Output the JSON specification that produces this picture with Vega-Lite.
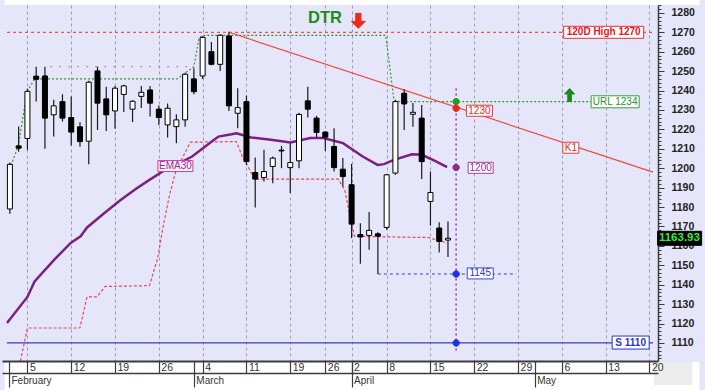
{
  "$schema": "https://vega.github.io/schema/vega-lite/v6.json",
  "width": 656,
  "height": 356,
  "autosize": {"type": "none"},
  "padding": {"left": 2, "top": 5, "right": 47, "bottom": 29},
  "background": "#e6e6fa",
  "config": {"view": {"stroke": null}, "font": "Liberation Sans"},
  "datasets": {
    "candles": [
      {"i": -2, "o": 1179, "h": 1203, "l": 1176.5, "c": 1202},
      {"i": -1, "o": 1211.5, "h": 1221.5, "l": 1208.5, "c": 1210.3},
      {"i": 0, "o": 1215.3, "h": 1241, "l": 1209.5, "c": 1239.6},
      {"i": 1, "o": 1247.4, "h": 1252.3, "l": 1234.3, "c": 1245.8},
      {"i": 2, "o": 1247.5, "h": 1252.3, "l": 1210, "c": 1225.8},
      {"i": 3, "o": 1227.5, "h": 1235.2, "l": 1216.3, "c": 1232.1},
      {"i": 4, "o": 1234.3, "h": 1238.1, "l": 1224, "c": 1225.8},
      {"i": 5, "o": 1226.1, "h": 1236.9, "l": 1211.7, "c": 1218.6},
      {"i": 6, "o": 1221.3, "h": 1223.7, "l": 1211, "c": 1213.7},
      {"i": 7, "o": 1213.9, "h": 1245, "l": 1202.1, "c": 1244.3},
      {"i": 8, "o": 1250.1, "h": 1252.3, "l": 1219.7, "c": 1233.5},
      {"i": 9, "o": 1235.7, "h": 1242, "l": 1219.2, "c": 1227.5},
      {"i": 10, "o": 1229.5, "h": 1242.4, "l": 1220.3, "c": 1241.2},
      {"i": 11, "o": 1238, "h": 1243, "l": 1229, "c": 1242.4},
      {"i": 12, "o": 1230.4, "h": 1235, "l": 1223.7, "c": 1234.5},
      {"i": 13, "o": 1237, "h": 1242.4, "l": 1231, "c": 1239.1},
      {"i": 14, "o": 1240.3, "h": 1242.4, "l": 1226.6, "c": 1233.5},
      {"i": 15, "o": 1230.4, "h": 1232.3, "l": 1222.3, "c": 1226.1},
      {"i": 16, "o": 1222.3, "h": 1233.3, "l": 1215.8, "c": 1230.9},
      {"i": 17, "o": 1221.4, "h": 1227.8, "l": 1212.9, "c": 1224.9},
      {"i": 18, "o": 1224.9, "h": 1249.2, "l": 1221.4, "c": 1248.4},
      {"i": 19, "o": 1246, "h": 1251.5, "l": 1238.1, "c": 1239.4},
      {"i": 20, "o": 1247.5, "h": 1268, "l": 1246, "c": 1267.4},
      {"i": 21, "o": 1260, "h": 1265, "l": 1253, "c": 1253.5},
      {"i": 22, "o": 1253.5, "h": 1269, "l": 1250.1, "c": 1268.5},
      {"i": 23, "o": 1268.1, "h": 1270.3, "l": 1229.5, "c": 1232.1},
      {"i": 24, "o": 1228.3, "h": 1241.2, "l": 1220.6, "c": 1231.2},
      {"i": 25, "o": 1234.3, "h": 1237.4, "l": 1201.7, "c": 1203.4},
      {"i": 26, "o": 1197.8, "h": 1205.5, "l": 1179.8, "c": 1194.4},
      {"i": 27, "o": 1195.2, "h": 1209.5, "l": 1193.2, "c": 1198.3},
      {"i": 28, "o": 1200.9, "h": 1206, "l": 1192.3, "c": 1205.2},
      {"i": 29, "o": 1209.3, "h": 1211.5, "l": 1200, "c": 1208.9},
      {"i": 30, "o": 1200.3, "h": 1212.9, "l": 1187.2, "c": 1202.9},
      {"i": 31, "o": 1203.8, "h": 1228.5, "l": 1200, "c": 1227.7},
      {"i": 32, "o": 1234.7, "h": 1242, "l": 1226.1, "c": 1230.4},
      {"i": 33, "o": 1225.8, "h": 1227, "l": 1215.8, "c": 1218.4},
      {"i": 34, "o": 1218.6, "h": 1219, "l": 1208.9, "c": 1216},
      {"i": 35, "o": 1211.2, "h": 1220.6, "l": 1198.3, "c": 1200.3},
      {"i": 36, "o": 1199.5, "h": 1205.2, "l": 1190.6, "c": 1195.7},
      {"i": 37, "o": 1191.5, "h": 1202.3, "l": 1164, "c": 1171.2},
      {"i": 38, "o": 1165.8, "h": 1171.7, "l": 1150.8, "c": 1164.6},
      {"i": 39, "o": 1165.4, "h": 1177.4, "l": 1158, "c": 1168},
      {"i": 40, "o": 1166.2, "h": 1167, "l": 1145.5, "c": 1165},
      {"i": 41, "o": 1169.5, "h": 1197, "l": 1168.3, "c": 1196.6},
      {"i": 42, "o": 1197.5, "h": 1235, "l": 1196.6, "c": 1234.3},
      {"i": 43, "o": 1238.6, "h": 1240.7, "l": 1219.7, "c": 1233.1},
      {"i": 44, "o": 1227.8, "h": 1233.6, "l": 1221.4, "c": 1228.8},
      {"i": 45, "o": 1225.8, "h": 1232.6, "l": 1194.4, "c": 1203.4},
      {"i": 46, "o": 1182.9, "h": 1198.3, "l": 1170.4, "c": 1187.5},
      {"i": 47, "o": 1169.2, "h": 1172.1, "l": 1156.6, "c": 1162.3},
      {"i": 48, "o": 1163, "h": 1172.6, "l": 1154.3, "c": 1163.93}
    ],
    "ema": [
      {"i": -2.33, "v": 1120.3}, {"i": 0, "v": 1133.7}, {"i": 0.82, "v": 1141.7}, {"i": 3.07, "v": 1152.9},
      {"i": 4.94, "v": 1161.5}, {"i": 6.07, "v": 1164.9}, {"i": 6.81, "v": 1169.5}, {"i": 8.69, "v": 1176.5},
      {"i": 10.56, "v": 1183.4}, {"i": 12.4, "v": 1189.4}, {"i": 13.93, "v": 1194.0}, {"i": 15.43, "v": 1198.3},
      {"i": 18.8, "v": 1206}, {"i": 21.04, "v": 1213.7}, {"i": 21.8, "v": 1216.3}, {"i": 23.3, "v": 1217.5},
      {"i": 23.85, "v": 1218}, {"i": 25.54, "v": 1215.8}, {"i": 27.8, "v": 1214.6}, {"i": 30.03, "v": 1213.2},
      {"i": 32.28, "v": 1215.5}, {"i": 33.78, "v": 1215.5}, {"i": 36.02, "v": 1212.9}, {"i": 38.27, "v": 1206},
      {"i": 39.96, "v": 1201.7}, {"i": 40.7, "v": 1202.1}, {"i": 41.83, "v": 1204.3}, {"i": 43.89, "v": 1207.2},
      {"i": 45.01, "v": 1206.9}, {"i": 46.52, "v": 1203.8}, {"i": 47.9, "v": 1200.6}
    ],
    "stop": [
      {"i": -0.8, "v": 1100.7}, {"i": 0, "v": 1117.7}, {"i": 5.99, "v": 1117.7}, {"i": 6.81, "v": 1133.7},
      {"i": 7.93, "v": 1133.7}, {"i": 8.88, "v": 1139.1}, {"i": 13.93, "v": 1139.5}, {"i": 14.87, "v": 1153.7},
      {"i": 15.42, "v": 1168.3}, {"i": 16.18, "v": 1185.4}, {"i": 16.92, "v": 1198.3}, {"i": 17.87, "v": 1206.9},
      {"i": 18.6, "v": 1213.4}, {"i": 23.85, "v": 1213.7}, {"i": 24.61, "v": 1205.2}, {"i": 25.17, "v": 1200.9},
      {"i": 25.91, "v": 1194.4}, {"i": 35.46, "v": 1194.4}, {"i": 36.21, "v": 1188.9}, {"i": 37, "v": 1171.7},
      {"i": 37.34, "v": 1164.9}, {"i": 45.76, "v": 1164.3}, {"i": 47.9, "v": 1161.5}
    ],
    "green": [
      {"i": -2.18, "v": 1197.6}, {"i": -1.06, "v": 1211.2}, {"i": -0.04, "v": 1239.4}, {"i": 0.82, "v": 1246},
      {"i": 17.1, "v": 1246}, {"i": 19, "v": 1252.3}, {"i": 19.55, "v": 1266.4}, {"i": 19.92, "v": 1268.4},
      {"i": 40.9, "v": 1268.4}, {"i": 41.83, "v": 1235.2}, {"i": 42.5, "v": 1234.3}, {"i": 64.4, "v": 1234.3}
    ],
    "markers": [
      {"k": "b120", "i": 65.77, "v": 1270},
      {"k": "bURL", "i": 67.08, "v": 1234.2},
      {"k": "b1230", "i": 51.59, "v": 1229.6},
      {"k": "bK1", "i": 62.02, "v": 1210.55},
      {"k": "b1200", "i": 51.73, "v": 1200.2},
      {"k": "b1145", "i": 51.68, "v": 1145.8},
      {"k": "bS", "i": 68.85, "v": 1110.2},
      {"k": "bEMA", "i": 16.89, "v": 1201.1},
      {"k": "bLast", "i": 74.44, "v": 1163.9},
      {"k": "dotG", "i": 48.93, "v": 1234.3},
      {"k": "dotR", "i": 48.93, "v": 1230.9},
      {"k": "dotP", "i": 48.93, "v": 1200.4},
      {"k": "dotB1", "i": 48.93, "v": 1145.5},
      {"k": "dotB2", "i": 48.93, "v": 1110},
      {"k": "up", "i": 61.88, "v": 1237.7},
      {"k": "down", "i": 37.77, "v": 1275.9}
    ],
    "texts": [
      {"t": "120D High 1270", "i": 65.77, "v": 1270},
      {"t": "URL 1234", "i": 67.08, "v": 1234.2},
      {"t": "1230", "i": 51.59, "v": 1229.6},
      {"t": "K1", "i": 62.02, "v": 1210.55},
      {"t": "1200", "i": 51.73, "v": 1200.2},
      {"t": "1145", "i": 51.68, "v": 1145.8},
      {"t": "S 1110", "i": 68.85, "v": 1110.2},
      {"t": "EMA30", "i": 16.89, "v": 1201.1},
      {"t": "DTR", "i": 33.97, "v": 1277.4},
      {"t": "1163.93", "i": 72.08, "v": 1163.9}
    ],
    "frame": [
      {"part": "bottom", "i1": -2.6, "i2": 76.7, "v1": 1100.2, "v2": 1085.5},
      {"part": "top", "i1": -2.6, "i2": 76.7, "v1": 1284.06, "v2": 1287}
    ]
  },
  "resolve": {"axis": {"x": "independent", "y": "independent"}},
  "layer": [
    {
      "data": {"name": "candles"},
      "mark": {"type": "rule", "opacity": 0},
      "encoding": {
        "x": {
          "field": "i", "type": "quantitative",
          "scale": {"domain": [-2.33, 71.4], "nice": false, "zero": false},
          "axis": {
            "orient": "bottom", "title": null,
            "values": [0, 5, 10, 15, 20, 25, 30, 34, 37, 41, 46, 51, 56, 61, 66, 71],
            "labels": false, "ticks": false, "domain": false,
            "grid": true, "gridColor": "#9c9cac", "gridDash": [3, 3], "gridWidth": 1, "zindex": 0
          }
        },
        "y": {
          "field": "l", "type": "quantitative",
          "scale": {"domain": [1100.7, 1284.06], "nice": false, "zero": false},
          "axis": {
            "orient": "right", "title": null, "format": "d",
            "values": [1110,1120,1130,1140,1150,1160,1170,1180,1190,1200,1210,1220,1230,1240,1250,1260,1270,1280],
            "tickSize": 6,
            "tickColor": "#3c3c3c", "domainColor": "#3c3c3c", "domainWidth": 1.5,
            "labelPadding": 7, "labelFontSize": 10.5, "labelFontWeight": "bold", "labelColor": "#222222",
            "labelFont": "Liberation Sans",
            "labelOverlap": false, "labelFlush": false, "grid": false, "zindex": 0
          }
        }
      }
    },
    {
      "data": {"name": "frame"},
      "mark": {"type": "rect", "fill": "#ffffff"},
      "encoding": {
        "x": {"field": "i1", "type": "quantitative", "axis": null},
        "x2": {"field": "i2"},
        "y": {"field": "v1", "type": "quantitative", "axis": null},
        "y2": {"field": "v2"}
      }
    },
    {
      "data": {"values": [{"i1": 71.52, "i2": 75.9, "v1": 1100.2, "v2": 1088.3}]},
      "mark": {"type": "rect", "fill": "#ececec"},
      "encoding": {
        "x": {"field": "i1", "type": "quantitative", "axis": null},
        "x2": {"field": "i2"},
        "y": {"field": "v1", "type": "quantitative", "axis": null},
        "y2": {"field": "v2"}
      }
    },
    {
      "data": {"values": [{"i1": 2.6, "i2": 19, "v": 1252.3}]},
      "mark": {"type": "rule", "stroke": "#e07898", "strokeDash": [2, 7], "strokeWidth": 1.2},
      "encoding": {
        "x": {"field": "i1", "type": "quantitative", "axis": null},
        "x2": {"field": "i2"},
        "y": {"field": "v", "type": "quantitative", "axis": null}
      }
    },
    {
      "data": {"values": [{"i1": -2.33, "i2": 71.4, "v": 1270}]},
      "mark": {"type": "rule", "stroke": "#e03030", "strokeDash": [3, 3], "strokeWidth": 1},
      "encoding": {
        "x": {"field": "i1", "type": "quantitative", "axis": null},
        "x2": {"field": "i2"},
        "y": {"field": "v", "type": "quantitative", "axis": null}
      }
    },
    {
      "data": {"name": "green"},
      "mark": {"type": "line", "stroke": "#2e9a2e", "strokeDash": [2, 2], "strokeWidth": 1.2},
      "encoding": {
        "x": {"field": "i", "type": "quantitative", "axis": null},
        "y": {"field": "v", "type": "quantitative", "axis": null}
      }
    },
    {
      "data": {"name": "stop"},
      "mark": {"type": "line", "stroke": "#e04a5a", "strokeDash": [3, 2], "strokeWidth": 1.2},
      "encoding": {
        "x": {"field": "i", "type": "quantitative", "axis": null},
        "y": {"field": "v", "type": "quantitative", "axis": null}
      }
    },
    {
      "data": {"values": [{"i1": 40, "i2": 55.8, "v": 1145.5}]},
      "mark": {"type": "rule", "stroke": "#3040e0", "strokeDash": [3, 3], "strokeWidth": 1.2},
      "encoding": {
        "x": {"field": "i1", "type": "quantitative", "axis": null},
        "x2": {"field": "i2"},
        "y": {"field": "v", "type": "quantitative", "axis": null}
      }
    },
    {
      "data": {"values": [{"i1": -2.33, "i2": 71.4, "v": 1110}]},
      "mark": {"type": "rule", "stroke": "#3a3ad0", "strokeWidth": 1.2},
      "encoding": {
        "x": {"field": "i1", "type": "quantitative", "axis": null},
        "x2": {"field": "i2"},
        "y": {"field": "v", "type": "quantitative", "axis": null}
      }
    },
    {
      "data": {"values": [{"i": 48.93, "v1": 1241, "v2": 1105}]},
      "mark": {"type": "rule", "stroke": "#a030a0", "strokeDash": [2, 3], "strokeWidth": 1.5},
      "encoding": {
        "x": {"field": "i", "type": "quantitative", "axis": null},
        "y": {"field": "v1", "type": "quantitative", "axis": null},
        "y2": {"field": "v2"}
      }
    },
    {
      "data": {"name": "ema"},
      "mark": {"type": "line", "stroke": "#7b1f80", "strokeWidth": 2.5},
      "encoding": {
        "x": {"field": "i", "type": "quantitative", "axis": null},
        "y": {"field": "v", "type": "quantitative", "axis": null}
      }
    },
    {
      "data": {"values": [{"i1": 23, "v1": 1270, "i2": 71.4, "v2": 1198}]},
      "mark": {"type": "rule", "stroke": "#ee4a40", "strokeWidth": 1.2},
      "encoding": {
        "x": {"field": "i1", "type": "quantitative", "axis": null},
        "x2": {"field": "i2"},
        "y": {"field": "v1", "type": "quantitative", "axis": null},
        "y2": {"field": "v2"}
      }
    },
    {
      "data": {"name": "candles"},
      "mark": {"type": "rule", "stroke": "#1a1a1a", "strokeWidth": 1.2},
      "encoding": {
        "x": {"field": "i", "type": "quantitative", "axis": null},
        "y": {"field": "l", "type": "quantitative", "axis": null},
        "y2": {"field": "h"}
      }
    },
    {
      "data": {"name": "candles"},
      "mark": {"type": "bar", "size": 5, "stroke": "#000000", "strokeWidth": 1},
      "encoding": {
        "x": {"field": "i", "type": "quantitative", "axis": null},
        "y": {"field": "o", "type": "quantitative", "axis": null},
        "y2": {"field": "c"},
        "color": {"condition": {"test": "datum.c >= datum.o", "value": "#ffffff"}, "value": "#000000"}
      }
    },
    {
      "data": {"name": "markers"},
      "mark": {"type": "point", "size": 4, "strokeWidth": 1, "opacity": 1},
      "encoding": {
        "x": {"field": "i", "type": "quantitative", "axis": null},
        "y": {"field": "v", "type": "quantitative", "axis": null},
        "shape": {
          "field": "k", "type": "nominal", "legend": null,
          "scale": {
            "domain": ["b120","bURL","b1230","bK1","b1200","b1145","bS","bEMA","bLast","dotG","dotR","dotP","dotB1","dotB2","up","down"],
            "range": [
              "M-40,-6H40V6H-40Z",
              "M-24,-6H24V6H-24Z",
              "M-13,-5.5H13V5.5H-13Z",
              "M-8,-5.5H8V5.5H-8Z",
              "M-12.5,-5.5H12.5V5.5H-12.5Z",
              "M-13,-5.5H13V5.5H-13Z",
              "M-18.5,-6.5H18.5V6.5H-18.5Z",
              "M-17.5,-5.5H17.5V5.5H-17.5Z",
              "M-22,-7H22V7H-22Z",
              "M-3.2,0A3.2,3.2,0,1,0,3.2,0A3.2,3.2,0,1,0,-3.2,0Z",
              "M-3.2,0A3.2,3.2,0,1,0,3.2,0A3.2,3.2,0,1,0,-3.2,0Z",
              "M-3.2,0A3.2,3.2,0,1,0,3.2,0A3.2,3.2,0,1,0,-3.2,0Z",
              "M-3.2,0A3.2,3.2,0,1,0,3.2,0A3.2,3.2,0,1,0,-3.2,0Z",
              "M-3.2,0A3.2,3.2,0,1,0,3.2,0A3.2,3.2,0,1,0,-3.2,0Z",
              "M0,-6.5L5,-1L1.8,-1L1.8,6.5L-1.8,6.5L-1.8,-1L-5,-1Z",
              "M0,7.5L7,0.5L2.6,0.5L2.6,-7.5L-2.6,-7.5L-2.6,0.5L-7,0.5Z"
            ]
          }
        },
        "fill": {
          "field": "k", "type": "nominal", "legend": null,
          "scale": {
            "domain": ["b120","bURL","b1230","bK1","b1200","b1145","bS","bEMA","bLast","dotG","dotR","dotP","dotB1","dotB2","up","down"],
            "range": ["#ffffff","#ffffff","#ffffff","#ffffff","#ffffff","#ffffff","#ffffff","#faf0fa","#000000","#1fa01f","#ee2020","#8a2a8a","#2030e0","#2030e0","#1a8a1a","#ee2a1a"]
          }
        },
        "stroke": {
          "field": "k", "type": "nominal", "legend": null,
          "scale": {
            "domain": ["b120","bURL","b1230","bK1","b1200","b1145","bS","bEMA","bLast","dotG","dotR","dotP","dotB1","dotB2","up","down"],
            "range": ["#e83030","#3aa03a","#e83a3a","#e83a3a","#a040a8","#3a44d0","#2a34c8","#c040a0","#000000","#1fa01f","#ee2020","#8a2a8a","#2030e0","#2030e0","#1a8a1a","#ee2a1a"]
          }
        }
      }
    },
    {
      "data": {"name": "texts"},
      "transform": [{"filter": {"field": "t", "oneOf": ["120D High 1270", "S 1110"]}}],
      "mark": {"type": "text", "fontSize": 10, "fontWeight": "bold", "align": "center", "baseline": "middle", "font": "Liberation Sans"},
      "encoding": {
        "x": {"field": "i", "type": "quantitative", "axis": null},
        "y": {"field": "v", "type": "quantitative", "axis": null},
        "text": {"field": "t"},
        "color": {
          "field": "t", "type": "nominal", "legend": null,
          "scale": {
            "domain": ["120D High 1270","URL 1234","1230","K1","1200","1145","S 1110","EMA30","DTR","1163.93"],
            "range": ["#e01818","#2a962a","#e02828","#e02828","#98289a","#2a34c8","#2a34c8","#a02898","#1c8c1c","#30f030"]
          }
        }
      }
    },
    {
      "data": {"name": "texts"},
      "transform": [{"filter": {"field": "t", "oneOf": ["URL 1234", "1230", "K1", "1200", "1145", "EMA30"]}}],
      "mark": {"type": "text", "fontSize": 10, "align": "center", "baseline": "middle", "font": "Liberation Sans"},
      "encoding": {
        "x": {"field": "i", "type": "quantitative", "axis": null},
        "y": {"field": "v", "type": "quantitative", "axis": null},
        "text": {"field": "t"},
        "color": {
          "field": "t", "type": "nominal", "legend": null,
          "scale": {
            "domain": ["120D High 1270","URL 1234","1230","K1","1200","1145","S 1110","EMA30","DTR","1163.93"],
            "range": ["#e01818","#2a962a","#e02828","#e02828","#98289a","#2a34c8","#2a34c8","#a02898","#1c8c1c","#30f030"]
          }
        }
      }
    },
    {
      "data": {"name": "texts"},
      "transform": [{"filter": {"field": "t", "equal": "DTR"}}],
      "mark": {"type": "text", "fontSize": 16.5, "fontWeight": "bold", "align": "center", "baseline": "middle", "font": "Liberation Sans"},
      "encoding": {
        "x": {"field": "i", "type": "quantitative", "axis": null},
        "y": {"field": "v", "type": "quantitative", "axis": null},
        "text": {"field": "t"},
        "color": {
          "field": "t", "type": "nominal", "legend": null,
          "scale": {
            "domain": ["120D High 1270","URL 1234","1230","K1","1200","1145","S 1110","EMA30","DTR","1163.93"],
            "range": ["#e01818","#2a962a","#e02828","#e02828","#98289a","#2a34c8","#2a34c8","#a02898","#1c8c1c","#30f030"]
          }
        }
      }
    },
    {
      "data": {"name": "texts"},
      "transform": [{"filter": {"field": "t", "equal": "1163.93"}}],
      "mark": {"type": "text", "fontSize": 11.5, "fontWeight": "bold", "align": "left", "baseline": "middle", "font": "Liberation Sans"},
      "encoding": {
        "x": {"field": "i", "type": "quantitative", "axis": null},
        "y": {"field": "v", "type": "quantitative", "axis": null},
        "text": {"field": "t"},
        "color": {
          "field": "t", "type": "nominal", "legend": null,
          "scale": {
            "domain": ["120D High 1270","URL 1234","1230","K1","1200","1145","S 1110","EMA30","DTR","1163.93"],
            "range": ["#e01818","#2a962a","#e02828","#e02828","#98289a","#2a34c8","#2a34c8","#a02898","#1c8c1c","#30f030"]
          }
        }
      }
    },
    {
      "data": {"values": [{"i": 0}]},
      "mark": {"type": "rule", "opacity": 0},
      "encoding": {
        "x": {
          "field": "i", "type": "quantitative",
          "axis": {
            "orient": "bottom", "title": null,
            "values": [0, 5, 10, 15, 20, 25, 30, 34, 37, 41, 46, 51, 56, 61, 66, 71],
            "labelExpr": "['5','12','19','26','4','11','19','26','2','8','15','22','29','6','13','20'][indexof([0,5,10,15,20,25,30,34,37,41,46,51,56,61,66,71], datum.value)]",
            "grid": false,
            "tickSize": 12, "tickColor": "#3c3c3c", "tickWidth": 1.2,
            "domainColor": "#3c3c3c", "domainWidth": 2,
            "labelAlign": "left", "labelBaseline": "top", "labelPadding": -11, "labelOffset": 2,
            "labelFontSize": 10.5, "labelColor": "#333333", "labelFont": "Liberation Sans",
            "labelOverlap": false, "labelFlush": false, "zindex": 1
          }
        }
      }
    },
    {
      "data": {"values": [{"i": -2.1}]},
      "mark": {"type": "rule", "opacity": 0},
      "encoding": {
        "x": {
          "field": "i", "type": "quantitative",
          "axis": {
            "orient": "bottom", "offset": 0, "title": null,
            "values": [-2.1, 18.99, 37, 57.9],
            "labelExpr": "['February','March','April','May'][indexof([-2.1,18.99,37,57.9], datum.value)]",
            "grid": false, "tickSize": 26, "tickColor": "#3c3c3c", "tickWidth": 1.2,
            "domain": false,
            "labelAlign": "left", "labelBaseline": "top", "labelPadding": -12, "labelOffset": 2,
            "labelFontSize": 10, "labelColor": "#333333", "labelFont": "Liberation Sans",
            "labelOverlap": false, "labelFlush": false, "zindex": 1
          }
        }
      }
    },
    {
      "data": {"values": [{"i": 0}]},
      "mark": {"type": "rule", "opacity": 0},
      "encoding": {
        "x": {
          "field": "i", "type": "quantitative",
          "axis": {
            "orient": "bottom", "offset": 12, "title": null,
            "values": [0], "labels": false, "ticks": false, "grid": false,
            "domain": true, "domainColor": "#3c3c3c", "domainWidth": 1.5, "zindex": 1
          }
        }
      }
    },
    {
      "data": {"values": [{"v": 1200}]},
      "mark": {"type": "rule", "opacity": 0},
      "encoding": {
        "y": {
          "field": "v", "type": "quantitative",
          "axis": {
            "orient": "right", "title": null,
            "values": [1102,1104,1106,1108,1112,1114,1116,1118,1122,1124,1126,1128,1132,1134,1136,1138,1142,1144,1146,1148,1152,1154,1156,1158,1162,1164,1166,1168,1172,1174,1176,1178,1182,1184,1186,1188,1192,1194,1196,1198,1202,1204,1206,1208,1212,1214,1216,1218,1222,1224,1226,1228,1232,1234,1236,1238,1242,1244,1246,1248,1252,1254,1256,1258,1262,1264,1266,1268,1272,1274,1276,1278,1282,1284],
            "labels": false, "domain": false, "grid": false,
            "tickSize": 3, "tickColor": "#3c3c3c", "zindex": 0
          }
        }
      }
    }
  ]
}
